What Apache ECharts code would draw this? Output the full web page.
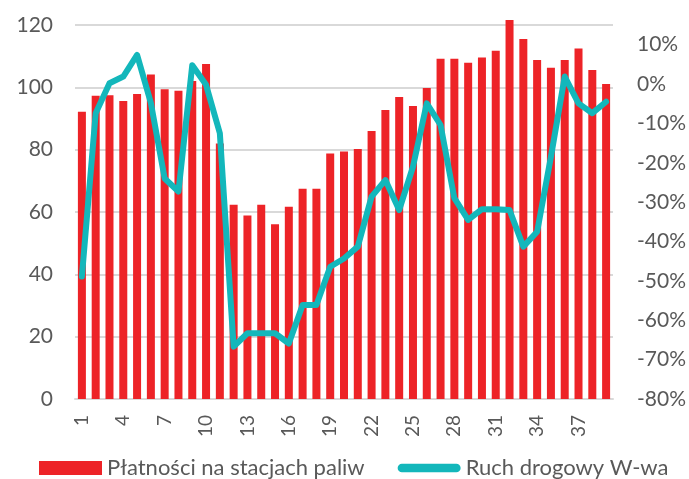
<!DOCTYPE html>
<html>
<head>
<meta charset="utf-8">
<script src="https://cdn.jsdelivr.net/npm/echarts@6/dist/echarts.min.js"></script>
<style>
html,body{margin:0;padding:0;background:#fff;}
#chart{width:689px;height:479px;}
</style>
</head>
<body>
<div id="chart"></div>
<script>
var categories = [];
for (var i = 1; i <= 39; i++) categories.push(String(i));

var payments = [92.2, 97.3, 97.5, 95.6, 97.9, 104.1, 99.4, 98.9, 102, 107.5,
  82, 62.3, 58.9, 62.3, 56.1, 61.7, 67.5, 67.5, 78.8, 79.4,
  80.2, 86.0, 92.7, 96.9, 94.0, 99.8, 109.2, 109.2, 107.9, 109.6,
  111.7, 121.6, 115.5, 108.8, 106.3, 108.8, 112.5, 105.6, 101.1];

var traffic = [-48.9, -7.4, 0.2, 1.9, 7.4, -4.8, -24, -27.3, 4.8, -0.2,
  -12.5, -66.7, -63.3, -63.3, -63.3, -65.9, -56.1, -56.1, -46.4, -44.3,
  -41.3, -28.6, -24.4, -32, -21, -4.9, -10.4, -29, -34.5, -31.8,
  -31.8, -32, -41.3, -37.5, -18.5, 1.9, -4.9, -7.4, -4.5];

var seriesNames = ['Płatności na stacjach paliw', 'Ruch drogowy W-wa'];

var chart = echarts.init(document.getElementById('chart'));
var font = 'Lato, "Open Sans", sans-serif';
chart.setOption({
  animation: false,
  backgroundColor: '#fff',
  grid: {left: 75, right: 76, top: 25, bottom: 80, containLabel: false},
  legend: {
    left: 34, top: 457, padding: [0, 5, 0, 5],
    itemWidth: 63, itemHeight: 14, itemGap: 33,
    textStyle: {fontFamily: font, fontSize: 22, color: '#595959'},
    data: [
      {name: seriesNames[0], icon: 'rect'},
      {name: seriesNames[1], icon: 'path://M4.5,0 L61.5,0 A4.5,4.5 0 0 1 61.5,9 L4.5,9 A4.5,4.5 0 0 1 4.5,0 Z'}
    ]
  },
  xAxis: {
    type: 'category',
    data: categories,
    axisLine: {lineStyle: {color: '#d9d9d9', width: 2}},
    axisTick: {show: false},
    axisLabel: {rotate: 90, interval: 2, margin: 16, fontFamily: font, fontSize: 19, color: '#595959'}
  },
  yAxis: [{
    type: 'value', min: 0, max: 120, interval: 20,
    axisLine: {show: false}, axisTick: {show: false},
    splitLine: {lineStyle: {color: '#d9d9d9', width: 2}},
    axisLabel: {margin: 22, fontFamily: font, fontSize: 21, color: '#595959'}
  }, {
    type: 'value', min: -80, max: 15, interval: 10, position: 'right',
    axisLine: {show: false}, axisTick: {show: false},
    splitLine: {show: false},
    axisLabel: {margin: 24, fontFamily: font, fontSize: 21, color: '#595959', showMaxLabel: false,
      formatter: function (v) { return v + '%'; }}
  }],
  series: [{
    name: seriesNames[0], type: 'bar', data: payments, barWidth: 8, clip: false,
    itemStyle: {color: '#ED2327'}
  }, {
    name: seriesNames[1], type: 'line', yAxisIndex: 1, data: traffic,
    symbol: 'none', lineStyle: {color: '#13B7BB', width: 6, cap: 'round', join: 'round'},
    itemStyle: {color: '#13B7BB'}
  }]
});
</script>
</body>
</html>
